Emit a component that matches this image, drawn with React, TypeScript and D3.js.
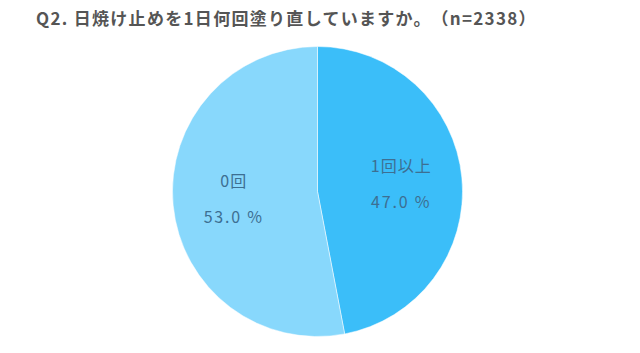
import React from "react";
import * as d3 from "d3";

const title = "Q2. 日焼け止めを1日何回塗り直していますか。";
const sampleLabel = "（n=2338）";
const categories = ["1回以上", "0回"];
const values = [47.0, 53.0];
const colors = ["#3bbef9", "#88d8fc"];

const W = 640;
const H = 353;
const cx = 317.5;
const cy = 191.5;
const R = 145;

export default function App() {
  const pie = d3.pie<number>().sort(null).value((d) => d);
  const arcs = pie(values);
  const arc = d3.arc<d3.PieArcDatum<number>>().innerRadius(0).outerRadius(R);
  const labelArc = d3.arc<d3.PieArcDatum<number>>().innerRadius(R * 0.58).outerRadius(R * 0.58);
  return (
    <svg width={W} height={H} style={{ position: "absolute", left: 0, top: 0, background: "#fff" }}>
      <text x={36} y={25} fontFamily="'Noto Sans CJK JP', sans-serif" fontWeight="bold" fontSize={17} fill="#555" letterSpacing={1.3}>
        <tspan>{title}</tspan>
        <tspan dx={8}>{sampleLabel}</tspan>
      </text>
      <g transform={`translate(${cx},${cy})`}>
        {arcs.map((a, i) => (
          <path key={i} d={arc(a) || ""} fill={colors[i]} stroke="#fff" strokeWidth={0.5} />
        ))}
        {arcs.map((a, i) => {
          const [x, y] = labelArc.centroid(a);
          return (
            <g key={"l" + i} fontFamily="'Noto Sans CJK JP', sans-serif" fontSize={16} fill="#3d6f92" textAnchor="middle">
              <text x={x} y={y - 12} letterSpacing={1}>{categories[i]}</text>
              <text x={x} y={y + 24} letterSpacing={1.8}>{`${values[i].toFixed(1)} %`}</text>
            </g>
          );
        })}
      </g>
    </svg>
  );
}
